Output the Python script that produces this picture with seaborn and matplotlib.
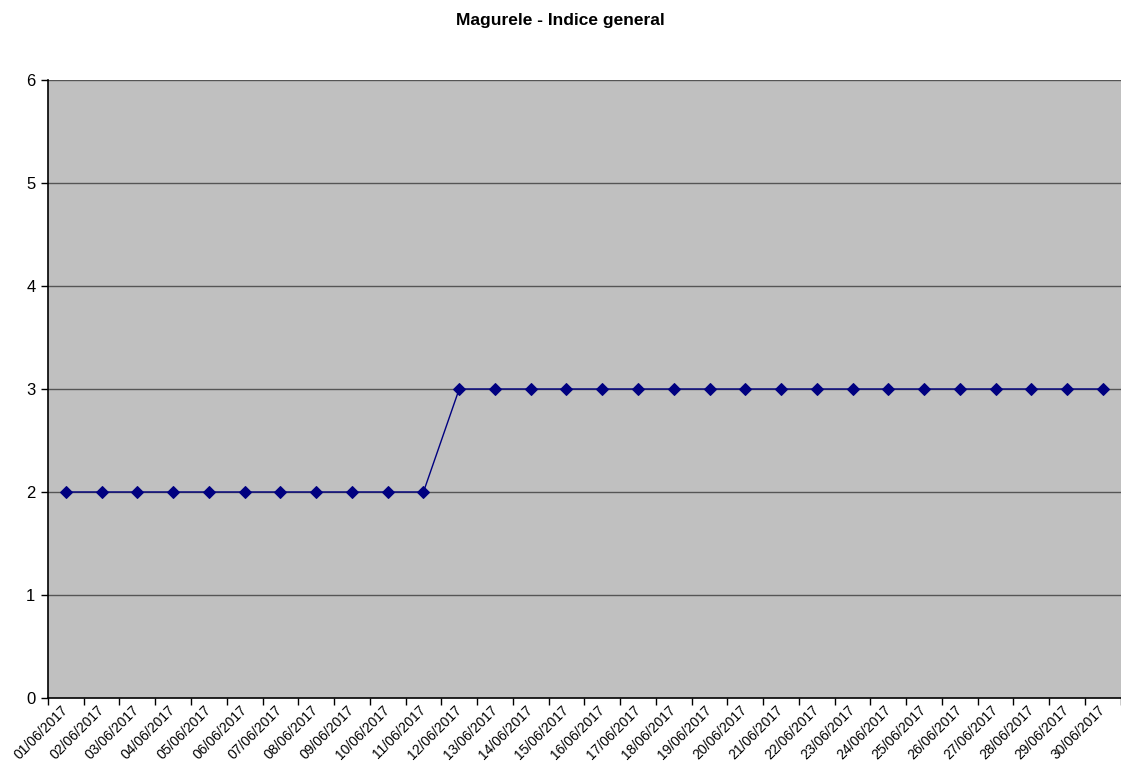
import matplotlib
matplotlib.use("Agg")
import matplotlib.pyplot as plt
import matplotlib.transforms as mtransforms
import seaborn as sns
import pandas as pd

# date ziua / indice
dates = [f"{d:02d}/06/2017" for d in range(1, 31)]
values = [2] * 11 + [3] * 19

df = pd.DataFrame({"data": range(len(dates)), "indice": values})

sns.set_theme(style="white")
plt.rcParams['font.family'] = ['Liberation Sans', 'DejaVu Sans']
plt.rcParams['text.color'] = 'black'
plt.rcParams['xtick.color'] = 'black'
plt.rcParams['ytick.color'] = 'black'

fig = plt.figure(figsize=(11.21, 7.67), dpi=100)
ax = fig.add_axes([0.0428, 0.09, 0.957, 0.8057])
ax.set_facecolor("#C0C0C0")

sns.lineplot(data=df, x="data", y="indice", ax=ax, color="#000080",
             linewidth=1.0, marker="D", markersize=6,
             markeredgecolor="#000080", markerfacecolor="#000080")

ax.set_xlim(-0.5, len(dates) - 0.5)
ax.set_ylim(0, 6)
ax.set_yticks(range(0, 7))
for y in range(1, 7):
    ax.axhline(y, color="#555555", linewidth=1.0, zorder=0.5)

# etichete pe categorii, liniute intre categorii
ax.set_xticks(range(len(dates)))
ax.set_xticklabels(dates, rotation=45, ha="right", va="center",
                   rotation_mode="anchor", fontsize=10)
offset = mtransforms.ScaledTranslation(-10 / 100, 0, fig.dpi_scale_trans)
for lbl in ax.get_xticklabels():
    lbl.set_transform(lbl.get_transform() + offset)
ax.set_xticks([i + 0.5 for i in range(-1, len(dates))], minor=True)
ax.tick_params(axis="x", which="major", length=0, pad=7)
ax.tick_params(axis="x", which="minor", length=5, width=1, color="black",
               direction="out", bottom=True)
ax.tick_params(axis="y", length=5, width=1, color="black", direction="out",
               labelsize=12, pad=4, left=True)

for side in ["top", "right"]:
    ax.spines[side].set_visible(False)
for side in ["left", "bottom"]:
    ax.spines[side].set_color("black")
    ax.spines[side].set_linewidth(1.2)

ax.set_xlabel("")
ax.set_ylabel("")
fig.suptitle("Magurele - Indice general", fontsize=12.5, fontweight="bold",
             y=0.983, color="black")

fig.savefig("out.png", dpi=100)
